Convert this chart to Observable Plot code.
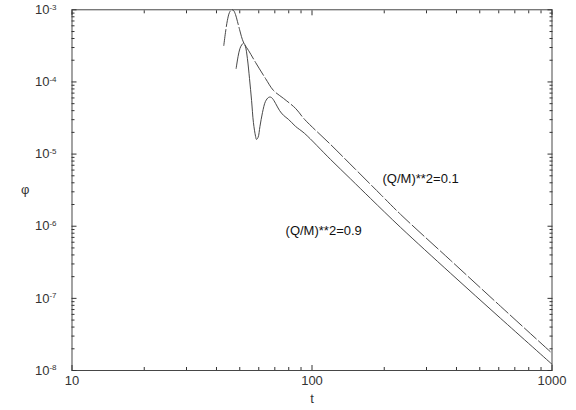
<!DOCTYPE html>
<html><head><meta charset="utf-8">
<script src="https://cdn.jsdelivr.net/npm/d3@7"></script>
<script src="https://cdn.jsdelivr.net/npm/@observablehq/plot@0.6"></script>
<style>
body{margin:0;background:#fff}
#chart svg{font-family:"Liberation Sans",Arial,Helvetica,sans-serif}
</style>
</head><body><div id="chart"></div>
<script>
// (Q/M)^2 = 0.1 : single bump, upper tail
const tA   = [42.9, 43.6, 44.4, 45.3, 46.2, 47.1, 48.0, 48.9, 49.9, 50.8, 52.0, 54.4, 58.2, 64.0, 69.1, 76.1, 85.4, 93.1, 119.4, 151.8, 194.8, 233.8, 377.7, 610, 1000];
const phiA = [3.20e-4, 4.85e-4, 7.11e-4, 9.17e-4, 1.0e-3, 9.78e-4, 8.61e-4, 6.89e-4, 5.34e-4, 4.27e-4, 3.45e-4, 2.73e-4, 1.86e-4, 1.118e-4, 7.62e-5, 5.91e-5, 4.30e-5, 3.03e-5, 1.362e-5, 6.14e-6, 2.68e-6, 1.462e-6, 3.37e-7, 7.78e-8, 1.736e-8];
// (Q/M)^2 = 0.9 : oscillating, lower tail
const tB   = [48.3, 49.2, 50.1, 51.1, 52.0, 52.8, 53.8, 54.9, 56.0, 57.0, 58.2, 58.7, 59.6, 60.7, 62.2, 64.0, 65.9, 67.2, 68.4, 70.5, 73.2, 76.1, 79.8, 85.4, 93.1, 119.4, 144.7, 175.3, 233.8, 377.7, 610, 1000];
const phiB = [1.538e-4, 2.25e-4, 2.91e-4, 3.31e-4, 3.45e-4, 3.10e-4, 2.12e-4, 1.118e-4, 5.54e-5, 2.75e-5, 1.758e-5, 1.598e-5, 1.703e-5, 2.42e-5, 3.78e-5, 5.37e-5, 6.10e-5, 6.16e-5, 5.91e-5, 5.04e-5, 4.03e-5, 3.44e-5, 3.03e-5, 2.42e-5, 1.935e-5, 8.44e-6, 4.53e-6, 2.43e-6, 9.65e-7, 2.23e-7, 5.30e-8, 1.22e-8];

const curveLabels = ["(Q/M)**2=0.1", "(Q/M)**2=0.9"];
const labelT = [196.7, 77.6];
const labelPhi = [4.53e-6, 8.77e-7];

const xMajor = [10, 100, 1000];
const yMajor = [1e-8, 1e-7, 1e-6, 1e-5, 1e-4, 1e-3];
const yExponents = [-8, -7, -6, -5, -4, -3];
const mult = [2, 3, 4, 5, 6, 7, 8, 9];
const xMinor = [10, 100].flatMap(d => mult.map(m => d * m));
const yMinor = yMajor.slice(0, -1).flatMap(d => mult.map(m => d * m));

const dataA = tA.map((t, i) => ({t, phi: phiA[i]}));
const dataB = tB.map((t, i) => ({t, phi: phiB[i]}));
const labelData = curveLabels.map((s, i) => ({s, t: labelT[i], phi: labelPhi[i]}));

const ink = "#333";
const blank = () => "";

const chart = Plot.plot({
  width: 576, height: 410,
  marginLeft: 71.5, marginRight: 24.5, marginTop: 9.3, marginBottom: 40,
  x: {type: "log", domain: [10, 1000]},
  y: {type: "log", domain: [1e-8, 1e-3]},
  style: {fontFamily: "Liberation Sans, Arial, sans-serif", fontSize: "13px", color: ink, background: "#fff"},
  marks: [
    Plot.frame({stroke: ink, strokeWidth: 0.9}),
    // minor ticks on all four sides (inward)
    Plot.axisX({anchor: "bottom", ticks: xMinor, tickSize: -3, tickFormat: blank, label: null, stroke: ink}),
    Plot.axisX({anchor: "top", ticks: xMinor, tickSize: -3, tickFormat: blank, label: null, stroke: ink}),
    Plot.axisY({anchor: "left", ticks: yMinor, tickSize: -3, tickFormat: blank, label: null, stroke: ink}),
    Plot.axisY({anchor: "right", ticks: yMinor, tickSize: -3, tickFormat: blank, label: null, stroke: ink}),
    // major ticks
    Plot.axisX({anchor: "top", ticks: xMajor, tickSize: -5, tickFormat: blank, label: null, stroke: ink}),
    Plot.axisY({anchor: "right", ticks: yMajor, tickSize: -5, tickFormat: blank, label: null, stroke: ink}),
    Plot.axisX({anchor: "bottom", ticks: xMajor, tickSize: -5, tickPadding: 10, tickFormat: d => String(d), label: null, stroke: ink, fill: ink, fontSize: 13}),
    Plot.axisY({anchor: "left", ticks: yMajor, tickSize: -5, tickPadding: 20.5, tickFormat: d => "10|" + yExponents[yMajor.indexOf(d)], label: null, stroke: ink, fill: ink, fontSize: 13}),
    // axis titles
    Plot.text(["t"], {frameAnchor: "bottom", dy: 28, lineAnchor: "middle", text: d => d, fontSize: 13, fill: ink}),
    Plot.text(["\u03c6"], {frameAnchor: "left", dx: -51, lineAnchor: "middle", text: d => d, fontSize: 13, fill: ink}),
    // curves
    Plot.line(dataA, {x: "t", y: "phi", stroke: ink, strokeWidth: 0.9, strokeDasharray: "16,3", curve: "catmull-rom"}),
    Plot.line(dataB, {x: "t", y: "phi", stroke: ink, strokeWidth: 0.9, curve: "catmull-rom"}),
    Plot.text(labelData, {x: "t", y: "phi", text: "s", textAnchor: "start", lineAnchor: "middle", fontSize: 13, fill: "#111"})
  ]
});

// render exponent as superscript
d3.select(chart).selectAll('g[aria-label="y-axis tick label"] text').each(function() {
  const el = d3.select(this);
  const parts = el.text().split("|");
  if (parts.length === 2) {
    el.text(parts[0]);
    el.append("tspan").attr("dy", "-0.55em").attr("font-size", "8px").text(parts[1]);
  }
});

document.getElementById("chart").append(chart);
</script>
</body></html>
